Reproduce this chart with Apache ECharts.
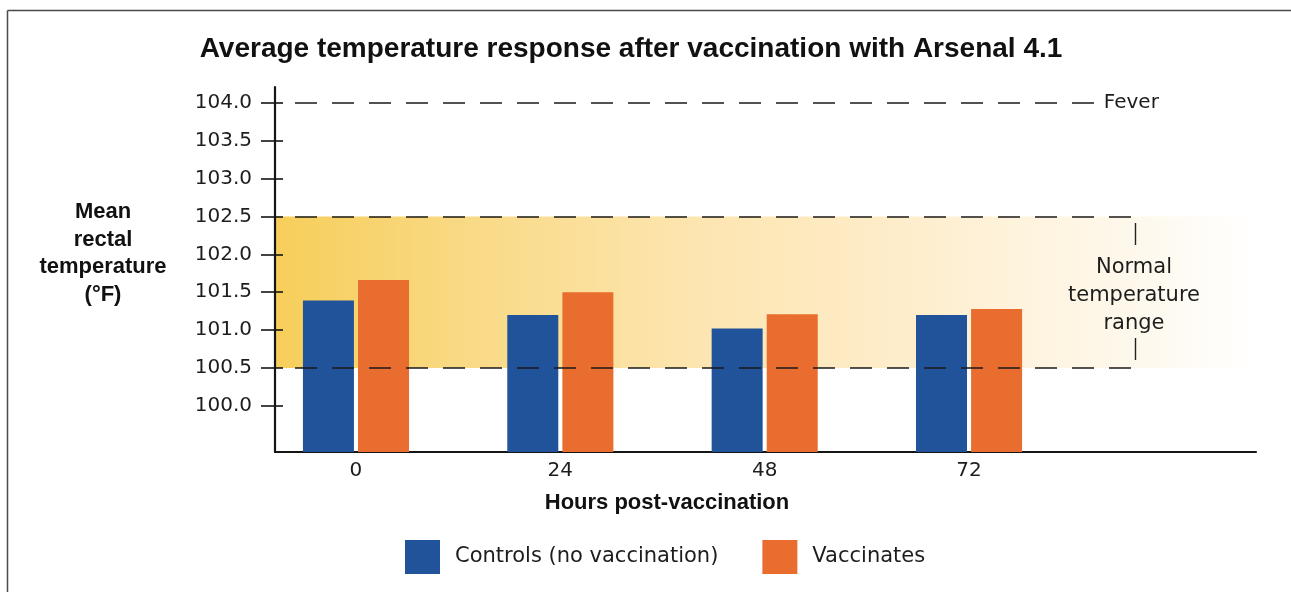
<!DOCTYPE html>
<html>
<head>
<meta charset="utf-8">
<script src="https://cdn.jsdelivr.net/npm/echarts@6/dist/echarts.min.js"></script>
<style>
html,body{margin:0;padding:0;background:#fff;}
#chart{width:1291px;height:592px;}
</style>
</head>
<body>
<div id="chart"></div>
<script>
// ---- data ----
const hours = [0, 24, 48, 72];
const controls = [101.39, 101.20, 101.02, 101.20];
const vaccinates = [101.66, 101.50, 101.21, 101.28];
const yTicks = [100.0, 100.5, 101.0, 101.5, 102.0, 102.5, 103.0, 103.5, 104.0];
const feverTemp = 104.0;
const normalRange = [100.5, 102.5];
const seriesNames = ['Controls (no vaccination)', 'Vaccinates'];
const titleText = 'Average temperature response after vaccination with Arsenal 4.1';
const yName = 'Mean\nrectal\ntemperature\n(°F)';
const xName = 'Hours post-vaccination';
const rangeLabel = 'Normal\ntemperature\nrange';

// ---- layout (axis extents in data units) ----
const X_MIN = -9.51, X_MAX = 105.7;
const Y_MIN = 99.39, Y_MAX = 104.21;
const DASH_START = -7.16, FEVER_END = 87.0, RANGE_END = 91.3;

const INK = '#1d1d1d';
const BLUE = '#21539A';
const ORANGE = '#E96D2E';
const REG = "'DejaVu Sans', sans-serif";
const BOLD = "'Liberation Sans', Arial, sans-serif";

const chart = echarts.init(document.getElementById('chart'), null, {renderer: 'canvas'});

const dashStyle = {color: '#1a1a1a', width: 1.6, type: [22, 15]};

const option = {
  backgroundColor: '#ffffff',
  animation: false,
  title: {
    text: titleText,
    left: 626, top: 30, textAlign: 'center',
    textStyle: {fontFamily: BOLD, fontWeight: 'bold', fontSize: 28, color: '#111'}
  },
  legend: {
    data: seriesNames,
    left: 400, top: 535,
    icon: 'rect', itemWidth: 35, itemHeight: 34, itemGap: 44,
    textStyle: {fontFamily: REG, fontSize: 21, color: INK, padding: [12, 0, 0, 10]}
  },
  grid: {left: 275, right: 35, top: 87, bottom: 140, containLabel: false},
  xAxis: {
    type: 'value', min: X_MIN, max: X_MAX,
    axisLine: {show: true, onZero: false, lineStyle: {color: '#151515', width: 2.2}},
    axisTick: {show: false},
    splitLine: {show: false},
    axisLabel: {customValues: hours, margin: 9, fontFamily: REG, fontSize: 20, color: INK,
      formatter: v => String(v)}
  },
  yAxis: [{
    type: 'value', min: Y_MIN, max: Y_MAX, z: 6,
    axisLine: {show: true, onZero: false, lineStyle: {color: '#151515', width: 2.2}},
    axisTick: {show: true, customValues: yTicks, length: 14, lineStyle: {color: '#151515', width: 1.6}},
    splitLine: {show: false},
    axisLabel: {customValues: yTicks, margin: 23, fontFamily: REG, fontSize: 20, color: INK,
      formatter: v => v.toFixed(1)}
  }, {
    type: 'value', min: Y_MIN, max: Y_MAX, position: 'left', offset: 0, z: 6,
    axisLine: {show: false, onZero: false},
    axisTick: {show: true, inside: true, customValues: yTicks, length: 8, lineStyle: {color: '#151515', width: 1.6}},
    axisLabel: {show: false},
    splitLine: {show: false}
  }],
  series: [{
    name: seriesNames[0], type: 'bar',
    data: hours.map((h, i) => [h, controls[i]]),
    barWidth: 51, barGap: '8%',
    itemStyle: {color: BLUE}
  }, {
    name: seriesNames[1], type: 'bar',
    data: hours.map((h, i) => [h, vaccinates[i]]),
    barWidth: 51, barGap: '8%',
    itemStyle: {color: ORANGE}
  }, {
    name: 'reference lines', type: 'line', data: [], showSymbol: false, silent: true,
    markArea: {
      silent: true, z: 1,
      itemStyle: {
        color: {type: 'linear', x: 0, y: 0, x2: 1, y2: 0, colorStops: [
          {offset: 0, color: '#F7CE5A'},
          {offset: 0.22, color: '#F9DB8A'},
          {offset: 0.43, color: '#FDE5B0'},
          {offset: 0.64, color: '#FEEDCB'},
          {offset: 0.78, color: '#FEF4E0'},
          {offset: 0.89, color: '#FEF9EE'},
          {offset: 1, color: '#FFFFFF'}
        ]}
      },
      data: [[{xAxis: X_MIN, yAxis: normalRange[0]}, {xAxis: X_MAX, yAxis: normalRange[1]}]]
    },
    markLine: {
      silent: true, symbol: 'none', z: 5,
      lineStyle: dashStyle,
      label: {show: false},
      data: [
        [{coord: [DASH_START, feverTemp], label: {show: true, position: 'end', formatter: 'Fever', distance: 7,
            fontFamily: REG, fontSize: 20, color: INK}},
         {coord: [FEVER_END, feverTemp]}],
        [{coord: [DASH_START, normalRange[1]]}, {coord: [RANGE_END, normalRange[1]]}],
        [{coord: [DASH_START, normalRange[0]]}, {coord: [RANGE_END, normalRange[0]]}]
      ]
    }
  }],
  graphic: [
    {type: 'line', shape: {x1: 7.5, y1: 10.5, x2: 1291, y2: 10.5}, style: {stroke: '#4a4a4a', lineWidth: 1.5}},
    {type: 'line', shape: {x1: 7.5, y1: 10.5, x2: 7.5, y2: 592}, style: {stroke: '#4a4a4a', lineWidth: 1.5}},
    {type: 'text', x: 103, y: 253.5, z: 10,
      style: {text: yName, fontFamily: BOLD, fontWeight: 'bold', fontSize: 22, lineHeight: 27.7,
        fill: '#111', textAlign: 'center', textVerticalAlign: 'middle'}},
    {type: 'text', x: 667, y: 503, z: 10,
      style: {text: xName, fontFamily: BOLD, fontWeight: 'bold', fontSize: 22,
        fill: '#111', textAlign: 'center', textVerticalAlign: 'middle'}},
    {type: 'text', x: 1134, y: 296, z: 10,
      style: {text: rangeLabel, fontFamily: REG, fontSize: 21, lineHeight: 28,
        fill: INK, textAlign: 'center', textVerticalAlign: 'middle'}},
    {type: 'line', z: 10, shape: {x1: 1135.5, y1: 223, x2: 1135.5, y2: 245}, style: {stroke: '#222', lineWidth: 1.4}},
    {type: 'line', z: 10, shape: {x1: 1135.5, y1: 338, x2: 1135.5, y2: 360}, style: {stroke: '#222', lineWidth: 1.4}}
  ]
};
chart.setOption(option);
</script>
</body>
</html>
